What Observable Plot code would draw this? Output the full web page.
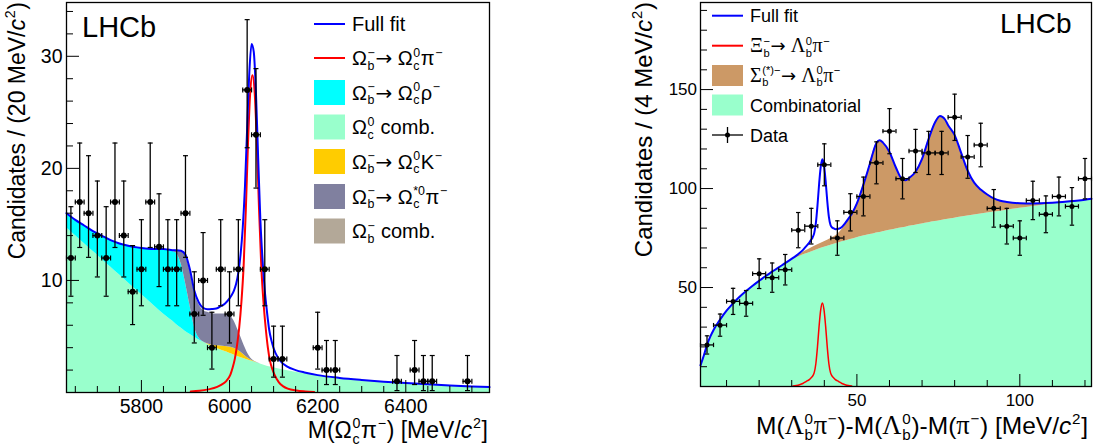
<!DOCTYPE html>
<html><head><meta charset="utf-8">
<script src="https://cdn.jsdelivr.net/npm/d3@7"></script>
<script src="https://cdn.jsdelivr.net/npm/@observablehq/plot@0.6"></script>
<style>
body{margin:0;background:#fff;}
#wrap{position:relative;width:1098px;height:448px;overflow:hidden;background:#fff;}
#left,#right,#overlay{position:absolute;top:0;}
#left{left:0;} #right{left:549px;} #overlay{left:0;pointer-events:none;}
#overlay text{white-space:pre;}
</style></head><body>
<div id="wrap"><div id="left"></div><div id="right"></div><svg id="overlay" width="1098" height="448"></svg></div>
<script>
// ---------------- LEFT PANEL DATA ----------------
const leftCenters = [5640,5660,5680,5700,5720,5740,5760,5780,5800,5820,5840,5860,5880,5900,5920,5940,5960,5980,6000,6020,6040,6060,6080,6100,6120,6200,6220,6240,6380,6420,6440,6460,6540];
const leftCounts  = [12,17,16,14,12,17,14,9,11,17,13,11,11,16,7,10,4,11,7,11,27,23,11,3,3,4,2,2,1,2,1,1,1];
const leftErrLo   = [3.41,4.06,3.94,3.69,3.41,4.06,3.69,2.94,3.26,4.06,3.55,3.26,3.26,3.94,2.58,3.11,1.91,3.26,2.58,3.26,5.16,4.76,3.26,1.63,1.63,1.91,1.29,1.29,0.83,1.29,0.83,0.83,0.83];
const leftErrHi   = [4.58,5.26,5.13,4.87,4.58,5.26,4.87,4.11,4.42,5.26,4.73,4.42,4.42,5.13,3.77,4.27,3.16,4.42,3.77,4.42,6.27,5.90,4.42,2.92,2.92,3.16,2.64,2.64,2.30,2.64,2.30,2.30,2.30];
const leftBinHalf = 10;

const leftGrid = [5630,5650,5670,5690,5710,5730,5750,5770,5790,5810,5830,5850,5860,5870,5880,5890,5900,5910,5920,5930,5940,5950,5960,5970,5980,5990,6000,6010,6020,6030,6040,6050,6060,6070,6080,6090,6100,6120,6150,6200,6250,6300,6350,6400,6450,6500,6550,6590];
const leftComb = [14.7,14.0,13.3,12.6,11.9,11.2,10.5,9.8,9.1,8.4,7.7,7.0,6.7,6.4,6.05,5.75,5.45,5.2,4.95,4.7,4.5,4.3,4.1,3.95,3.8,3.65,3.5,3.35,3.2,3.05,2.92,2.8,2.68,2.55,2.42,2.3,2.2,2.02,1.8,1.5,1.28,1.1,0.95,0.82,0.72,0.62,0.53,0.47];
const leftK    = [0,0,0,0,0,0,0,0,0,0,0,0,0,0,0,0,0,0,0,0,0,0.05,0.12,0.22,0.35,0.45,0.55,0.6,0.55,0.4,0.2,0.08,0.02,0,0,0,0,0,0,0,0,0,0,0,0,0,0,0];
const leftRho  = [1.3,1.4,1.6,1.8,2.1,2.4,2.8,3.3,3.85,4.45,5.1,5.8,6.0,6.2,6.35,5.75,4.35,2.6,0.95,0.2,0.03,0,0,0,0,0,0,0,0,0,0,0,0,0,0,0,0,0,0,0,0,0,0,0,0,0,0,0];
const leftStar = [0,0,0,0,0,0,0,0,0,0,0,0,0.05,0.1,0.3,1.1,2.4,3.1,3.1,3.0,2.82,2.8,2.83,2.83,2.85,2.9,2.85,2.45,1.75,1.05,0.48,0.12,0.02,0,0,0,0,0,0,0,0,0,0,0,0,0,0,0];

const leftSigX = [5912,5932,5952,5972,5982,5992,6002,6007,6012,6017,6022,6027,6032,6037,6042,6047,6052,6057,6062,6067,6072,6077,6082,6087,6092,6097,6102,6112,6122,6132,6152,6172,6192];
const leftSig  = [0.1,0.15,0.28,0.5,0.7,1.0,1.6,2.2,3.0,4.2,5.8,8.1,11.3,16.3,22.3,26.8,28.3,26.8,22.3,16.3,11.3,8.1,5.8,4.0,2.8,2.1,1.6,0.9,0.55,0.35,0.18,0.1,0.05];

const leftFullX = [5630,5650,5670,5690,5710,5730,5750,5770,5790,5810,5830,5850,5860,5870,5880,5890,5900,5910,5920,5930,5940,5950,5960,5970,5980,5990,6000,6005,6010,6015,6020,6025,6030,6035,6040,6045,6050,6055,6060,6065,6070,6075,6080,6085,6090,6095,6100,6110,6120,6130,6150,6170,6200,6250,6300,6350,6400,6450,6500,6550,6590];
const leftFull  = [16.0,15.4,14.9,14.4,14.0,13.6,13.3,13.1,12.95,12.85,12.8,12.8,12.75,12.7,12.7,12.65,12.3,11.0,9.1,8.05,7.55,7.43,7.45,7.5,7.7,7.95,8.4,8.7,9.1,9.7,10.7,12.3,14.7,18.35,23.6,28.6,31.1,30.4,26.7,20.9,15.4,11.8,9.1,7.2,5.6,4.65,3.95,3.1,2.62,2.33,2.0,1.79,1.55,1.3,1.12,0.97,0.84,0.73,0.63,0.54,0.48];

const leftXMajor = [5800,6000,6200,6400];
const leftXMinor = [5650,5700,5750,5850,5900,5950,6050,6100,6150,6250,6300,6350,6450,6500,6550];
const leftYMajor = [10,20,30];
const leftYMinor = [2,4,6,8,12,14,16,18,22,24,26,28,32,34];

// ---------------- RIGHT PANEL DATA ----------------
const rightCenters = [4,8,12,16,20,24,28,32,36,40,44,48,52,56,60,64,68,72,76,80,84,88,92,96,100,104,108,112,116,120];
const rightCounts  = [21,31,43,42,57,55,59,79,81,112,75,88,96,113,129,105,119,118,118,136,116,122,90,81,75,94,87,96,91,105];
const rightErr     = [4.6,5.6,6.6,6.5,7.5,7.4,7.7,8.9,9.0,10.6,8.7,9.4,9.8,10.6,11.4,10.2,10.9,10.9,10.9,11.7,10.8,11.0,9.5,9.0,8.7,9.7,9.3,9.8,9.5,10.2];
const rightBinHalf = 2;

const rightGrid  = [2,3,4,5,6,8,10,12,14,16,18,20,22,24,26,28,30,32,34,36,38,40,42,44,46,48,50,52,54,55,56,57,58,60,62,64,65,66,68,70,72,74,75.5,77,78,80,82,84,86,88,90,92,94,96,100,104,108,112,116,120,122];
const rightComb  = [10.7,15.5,21.0,25.2,28.5,33.8,38.3,42.0,45.3,48.2,50.9,53.4,55.8,58.0,60.2,62.2,63.9,65.4,66.8,68.0,69.2,70.3,71.4,72.4,73.4,74.3,75.2,76.0,76.8,77.1,77.5,77.8,78.2,78.9,79.6,80.2,80.5,80.9,81.5,82.1,82.7,83.3,83.8,84.2,84.5,85.0,85.6,86.1,86.6,87.1,87.6,88.1,88.6,89.1,90.0,90.9,91.8,92.6,93.4,94.1,94.5];
const rightSigma = [0,0,0,0,0,0,0,0,0,0,0,0,0,0,0,0,0.3,0.9,1.5,2.0,2.4,2.8,3.4,4.4,7.2,11.5,17.3,26,35.9,41.4,45.5,46.6,45,39.6,30.9,24.3,23.7,24.4,27,32.9,42.3,50.2,52.9,50.8,47.5,42,32.4,22.9,16.4,12.4,9.4,6.9,5.2,4.1,2.6,1.6,0.9,0.5,0.3,0.2,0.3];

const rightXiX = [30.4,31.4,32.4,33.4,34.4,35.4,35.9,36.4,36.9,37.4,37.9,38.4,38.9,39.4,39.9,40.4,40.9,41.4,41.9,42.4,42.9,43.4,44.4,45.4,46.4,47.4,48.4];
const rightXi  = [0.25,0.5,0.9,1.5,2.5,3.5,4.3,5.2,7.0,11.5,20,30.5,38.8,42.2,38.8,30.5,20,11.5,7.0,5.2,4.3,3.5,2.5,1.5,0.9,0.5,0.25];

const rightFullX = [2,3,4,5,6,8,10,12,14,16,18,20,22,24,26,28,30.4,31.4,32.4,33.4,34.4,35.4,35.9,36.4,36.9,37.4,37.9,38.4,38.9,39.4,39.9,40.4,40.9,41.4,41.9,42.4,42.9,43.4,44.4,45.4,46.4,47.4,48.4,50,52,54,55,56,57,58,60,62,64,65,66,68,70,72,74,75.5,77,78,80,82,84,86,88,90,92,94,96,100,104,108,112,116,120,122];
const rightFull  = [10.7,15.5,21.0,25.2,28.5,33.8,38.3,42.0,45.3,48.2,50.9,53.4,55.8,58.0,60.2,62.3,64.95,66.1,67.4,68.9,70.8,72.7,74.0,75.3,77.5,82.5,91.4,102.3,111.0,114.8,111.8,103.9,93.8,85.7,81.6,80.3,79.85,79.5,79.7,80.6,82.5,84.8,87.2,92.5,102,112.7,118.5,123,124.4,123.2,118.5,110.5,104.5,104.2,105.3,108.5,115,125,133.5,136.7,135,132,127,118,109,103,99.5,97,95,93.8,93.2,92.6,92.5,92.7,93.1,93.7,94.3,94.8];

const rightXMajor = [50,100];
const rightXMinor = [10,20,30,40,60,70,80,90,110,120];
const rightYMajor = [50,100,150];
const rightYMinor = [10,20,30,40,60,70,80,90,110,120,130,140,160,170,180,190];

// ---------------- COLOURS / FONTS ----------------
const SANS = '"Liberation Sans", Arial, Helvetica, sans-serif';
const SERIF = '"Liberation Serif", "Times New Roman", serif';
const ARROWF = '"DejaVu Sans", sans-serif';
const C = {comb:"#99ffcc", K:"#ffcc00", rho:"#00ffff", star:"#80809f", obcomb:"#b3a898", sigma:"#cc9966", blue:"#0000ff", red:"#ff0000"};

// ---------------- helpers ----------------
const hTick = len => ({draw(c){c.moveTo(0,0);c.lineTo(len,0);}});
const vTick = len => ({draw(c){c.moveTo(0,0);c.lineTo(0,-len);}});
const capH = w => ({draw(c){c.moveTo(-w,0);c.lineTo(w,0);}});
const capV = w => ({draw(c){c.moveTo(0,-w);c.lineTo(0,w);}});
function longTable(grid, comps){const out=[];for(const [name,vals] of comps) grid.forEach((x,i)=>out.push({x,y:vals[i],comp:name}));return out;}
const pairs = (xs, ys) => xs.map((x,i)=>({x, y: ys[i]}));

function dataMarks(pts, r, cap){
  return [
    Plot.ruleX(pts,{x:"x",y1:"lo",y2:"hi",stroke:"black",strokeWidth:1.3}),
    Plot.ruleY(pts,{y:"y",x1:"x1",x2:"x2",stroke:"black",strokeWidth:1.3}),
    Plot.dot(pts,{x:"x",y:"lo",symbol:capH(cap),stroke:"black",fill:"none",strokeWidth:1.2}),
    Plot.dot(pts,{x:"x",y:"hi",symbol:capH(cap),stroke:"black",fill:"none",strokeWidth:1.2}),
    Plot.dot(pts,{x:"x1",y:"y",symbol:capV(cap),stroke:"black",fill:"none",strokeWidth:1.2}),
    Plot.dot(pts,{x:"x2",y:"y",symbol:capV(cap),stroke:"black",fill:"none",strokeWidth:1.2}),
    Plot.dot(pts,{x:"x",y:"y",r:r,fill:"black",stroke:"none"})
  ];
}
function tickMarks(xMaj,xMin,yMaj,yMin,fs,padX,padY){
  return [
    Plot.dot(yMaj,{y:d=>d,frameAnchor:"left",symbol:hTick(12.5),stroke:"black",fill:"none",strokeWidth:1}),
    Plot.dot(yMin,{y:d=>d,frameAnchor:"left",symbol:hTick(6.5),stroke:"black",fill:"none",strokeWidth:1}),
    Plot.dot(xMaj,{x:d=>d,frameAnchor:"bottom",symbol:vTick(12.5),stroke:"black",fill:"none",strokeWidth:1}),
    Plot.dot(xMin,{x:d=>d,frameAnchor:"bottom",symbol:vTick(6.5),stroke:"black",fill:"none",strokeWidth:1}),
    Plot.text(xMaj,{x:d=>d,text:d=>String(d),frameAnchor:"bottom",lineAnchor:"top",dy:padX,fontSize:fs,fill:"black"}),
    Plot.text(yMaj,{y:d=>d,text:d=>String(d),frameAnchor:"left",textAnchor:"end",dx:-padY,fontSize:fs,fill:"black"}),
    Plot.frame({stroke:"black",strokeWidth:1.3})
  ];
}

// ---------------- LEFT PLOT ----------------
const leftBkg = longTable(leftGrid,[["comb",leftComb],["K",leftK],["rho",leftRho],["star",leftStar]]);
const leftPts = leftCenters.map((x,i)=>({x,y:leftCounts[i],lo:leftCounts[i]-leftErrLo[i],hi:leftCounts[i]+leftErrHi[i],x1:x-leftBinHalf,x2:x+leftBinHalf}));
const L = Plot.plot({
  width:549,height:448,marginLeft:66,marginRight:60,marginTop:2,marginBottom:56,
  x:{domain:[5630,6590],axis:null},
  y:{domain:[0,34.8],axis:null},
  color:{domain:["comb","K","rho","star"],range:[C.comb,C.K,C.rho,C.star]},
  style:{fontFamily:SANS,background:"transparent",overflow:"visible"},
  marks:[
    Plot.areaY(leftBkg,{x:"x",y:"y",z:"comp",fill:"comp",curve:"monotone-x"}),
    Plot.line(pairs(leftSigX,leftSig),{x:"x",y:"y",stroke:C.red,strokeWidth:2,curve:"monotone-x"}),
    Plot.line(pairs(leftFullX,leftFull),{x:"x",y:"y",stroke:C.blue,strokeWidth:2,curve:"monotone-x"}),
    ...dataMarks(leftPts,3,2.5),
    ...tickMarks(leftXMajor,leftXMinor,leftYMajor,leftYMinor,19.5,7,4)
  ]
});
document.getElementById("left").appendChild(L);

// ---------------- RIGHT PLOT ----------------
const rightBkg = longTable(rightGrid,[["comb",rightComb],["sigma",rightSigma]]);
const rightPts = rightCenters.map((x,i)=>({x,y:rightCounts[i],lo:rightCounts[i]-rightErr[i],hi:rightCounts[i]+rightErr[i],x1:x-rightBinHalf,x2:x+rightBinHalf}));
const R = Plot.plot({
  width:549,height:448,marginLeft:151,marginRight:7,marginTop:2,marginBottom:62,
  x:{domain:[2,122],axis:null},
  y:{domain:[0,194],axis:null},
  color:{domain:["comb","sigma"],range:[C.comb,C.sigma]},
  style:{fontFamily:SANS,background:"transparent",overflow:"visible"},
  marks:[
    Plot.areaY(rightBkg,{x:"x",y:"y",z:"comp",fill:"comp",curve:"monotone-x"}),
    Plot.line(pairs(rightXiX,rightXi),{x:"x",y:"y",stroke:C.red,strokeWidth:1.5,curve:"monotone-x"}),
    Plot.line(pairs(rightFullX,rightFull),{x:"x",y:"y",stroke:C.blue,strokeWidth:2,curve:"monotone-x"}),
    ...dataMarks(rightPts,2.5,2.2),
    ...tickMarks(rightXMajor,rightXMinor,rightYMajor,rightYMinor,17,7,3.5)
  ]
});
document.getElementById("right").appendChild(R);

// ---------------- RICH TEXT (titles, legends) ----------------
const ov = d3.select("#overlay");
function rich(segs,{x,y,size,anchor="start",rotate=0,greek=SANS,greekScale=1,family=SANS}){
  const outer = ov.append("g").attr("transform",`translate(${x},${y}) rotate(${rotate})`);
  const g = outer.append("g");
  let cx = 0;
  const put=(txt,px,py,fs,fam,style)=>{
    const t=g.append("text").attr("x",px).attr("y",py).attr("font-size",fs).attr("font-family",fam).attr("fill","black").text(txt.replace(/ /g,"\u00a0"));
    if(style) t.attr("font-style",style);
    return t.node().getComputedTextLength();
  };
  for(const s of segs){
    if(typeof s==="string") cx+=put(s,cx,0,size,family);
    else if(s.g!==undefined) cx+=put(s.g,cx,0,size*greekScale,greek);
    else if(s.a!==undefined) cx+=put(s.a,cx,0,size,ARROWF);
    else if(s.i!==undefined) cx+=put(s.i,cx,0,size,family,"italic");
    else {
      let w=0; const ss=size*0.62;
      if(s.sup!==undefined) w=Math.max(w,put(s.sup,cx+size*0.03,-size*0.42,ss,family));
      if(s.sub!==undefined) w=Math.max(w,put(s.sub,cx+size*0.03,size*0.24,ss,family));
      cx+=w+size*0.06;
    }
  }
  if(anchor==="end") g.attr("transform",`translate(${-cx},0)`);
  return cx;
}
const ARW = {a:"→"};

// LHCb labels
rich(["LHCb"],{x:82,y:37,size:29});
rich(["LHCb"],{x:1000,y:33,size:28});

// axis titles
rich(["M(",{g:"Ω"},{sup:"0",sub:"c"},{g:"π"},{sup:"−"},") [MeV/",{i:"c"},{sup:"2"},"]"],{x:488,y:438,size:23,anchor:"end"});
rich(["M(",{g:"Λ"},{sup:"0",sub:"b"},{g:"π"},{sup:"−"},")-M(",{g:"Λ"},{sup:"0",sub:"b"},")-M(",{g:"π"},{sup:"−"},") [MeV/",{i:"c"},{sup:"2"},"]"],{x:1088,y:434,size:24.5,anchor:"end",greek:SERIF,greekScale:1.08});
rich(["Candidates / (20 MeV/",{i:"c"},{sup:"2"},")"],{x:25,y:2,size:23,anchor:"end",rotate:-90});
rich(["Candidates / (4 MeV/",{i:"c"},{sup:"2"},")"],{x:652,y:2,size:24,anchor:"end",rotate:-90});

// left legend
const Lx0=314,Lx1=345,Ltx=352,Lfs=20;
const leftLegend = [
  {type:"line",color:C.blue,label:["Full fit"],cy:24},
  {type:"line",color:C.red,label:[{g:"Ω"},{sup:"−",sub:"b"},ARW," ",{g:"Ω"},{sup:"0",sub:"c"},{g:"π"},{sup:"−"}],cy:58},
  {type:"box",color:C.rho,label:[{g:"Ω"},{sup:"−",sub:"b"},ARW," ",{g:"Ω"},{sup:"0",sub:"c"},{g:"ρ"},{sup:"−"}],cy:92.5},
  {type:"box",color:C.comb,label:[{g:"Ω"},{sup:"0",sub:"c"}," comb."],cy:127},
  {type:"box",color:C.K,label:[{g:"Ω"},{sup:"−",sub:"b"},ARW," ",{g:"Ω"},{sup:"0",sub:"c"},"K",{sup:"−"}],cy:161.5},
  {type:"box",color:C.star,label:[{g:"Ω"},{sup:"−",sub:"b"},ARW," ",{g:"Ω"},{sup:"*0",sub:"c"},{g:"π"},{sup:"−"}],cy:196.5},
  {type:"box",color:C.obcomb,label:[{g:"Ω"},{sup:"−",sub:"b"}," comb."],cy:231}
];
for(const e of leftLegend){
  if(e.type==="line") ov.append("line").attr("x1",Lx0).attr("x2",Lx1).attr("y1",e.cy).attr("y2",e.cy).attr("stroke",e.color).attr("stroke-width",2);
  else ov.append("rect").attr("x",Lx0).attr("y",e.cy-12.5).attr("width",Lx1-Lx0).attr("height",25).attr("fill",e.color);
  rich(e.label,{x:Ltx,y:e.cy+7,size:Lfs});
}

// right legend
const Rx0=712,Rx1=743,Rtx=750,Rfs=18;
const rightLegend = [
  {type:"line",color:C.blue,label:["Full fit"],cy:15.7},
  {type:"line",color:C.red,label:[{g:"Ξ"},{sup:"−",sub:"b"},ARW," ",{g:"Λ"},{sup:"0",sub:"b"},{g:"π"},{sup:"−"}],cy:45.7},
  {type:"box",color:C.sigma,label:[{g:"Σ"},{sup:"(*)−",sub:"b"},ARW," ",{g:"Λ"},{sup:"0",sub:"b"},{g:"π"},{sup:"−"}],cy:75.5},
  {type:"box",color:C.comb,label:["Combinatorial"],cy:105},
  {type:"data",label:["Data"],cy:135}
];
for(const e of rightLegend){
  if(e.type==="line") ov.append("line").attr("x1",Rx0).attr("x2",Rx1).attr("y1",e.cy).attr("y2",e.cy).attr("stroke",e.color).attr("stroke-width",2);
  else if(e.type==="box") ov.append("rect").attr("x",Rx0).attr("y",e.cy-10.5).attr("width",Rx1-Rx0).attr("height",21).attr("fill",e.color);
  else {
    const cx=(Rx0+Rx1)/2;
    ov.append("line").attr("x1",Rx0).attr("x2",Rx1).attr("y1",e.cy).attr("y2",e.cy).attr("stroke","black").attr("stroke-width",1.3);
    ov.append("line").attr("x1",cx).attr("x2",cx).attr("y1",e.cy-8).attr("y2",e.cy+8).attr("stroke","black").attr("stroke-width",1.3);
    ov.append("circle").attr("cx",cx).attr("cy",e.cy).attr("r",2.5).attr("fill","black");
  }
  rich(e.label,{x:Rtx,y:e.cy+6.5,size:Rfs,greek:SERIF,greekScale:1.12});
}
</script>
</body></html>
